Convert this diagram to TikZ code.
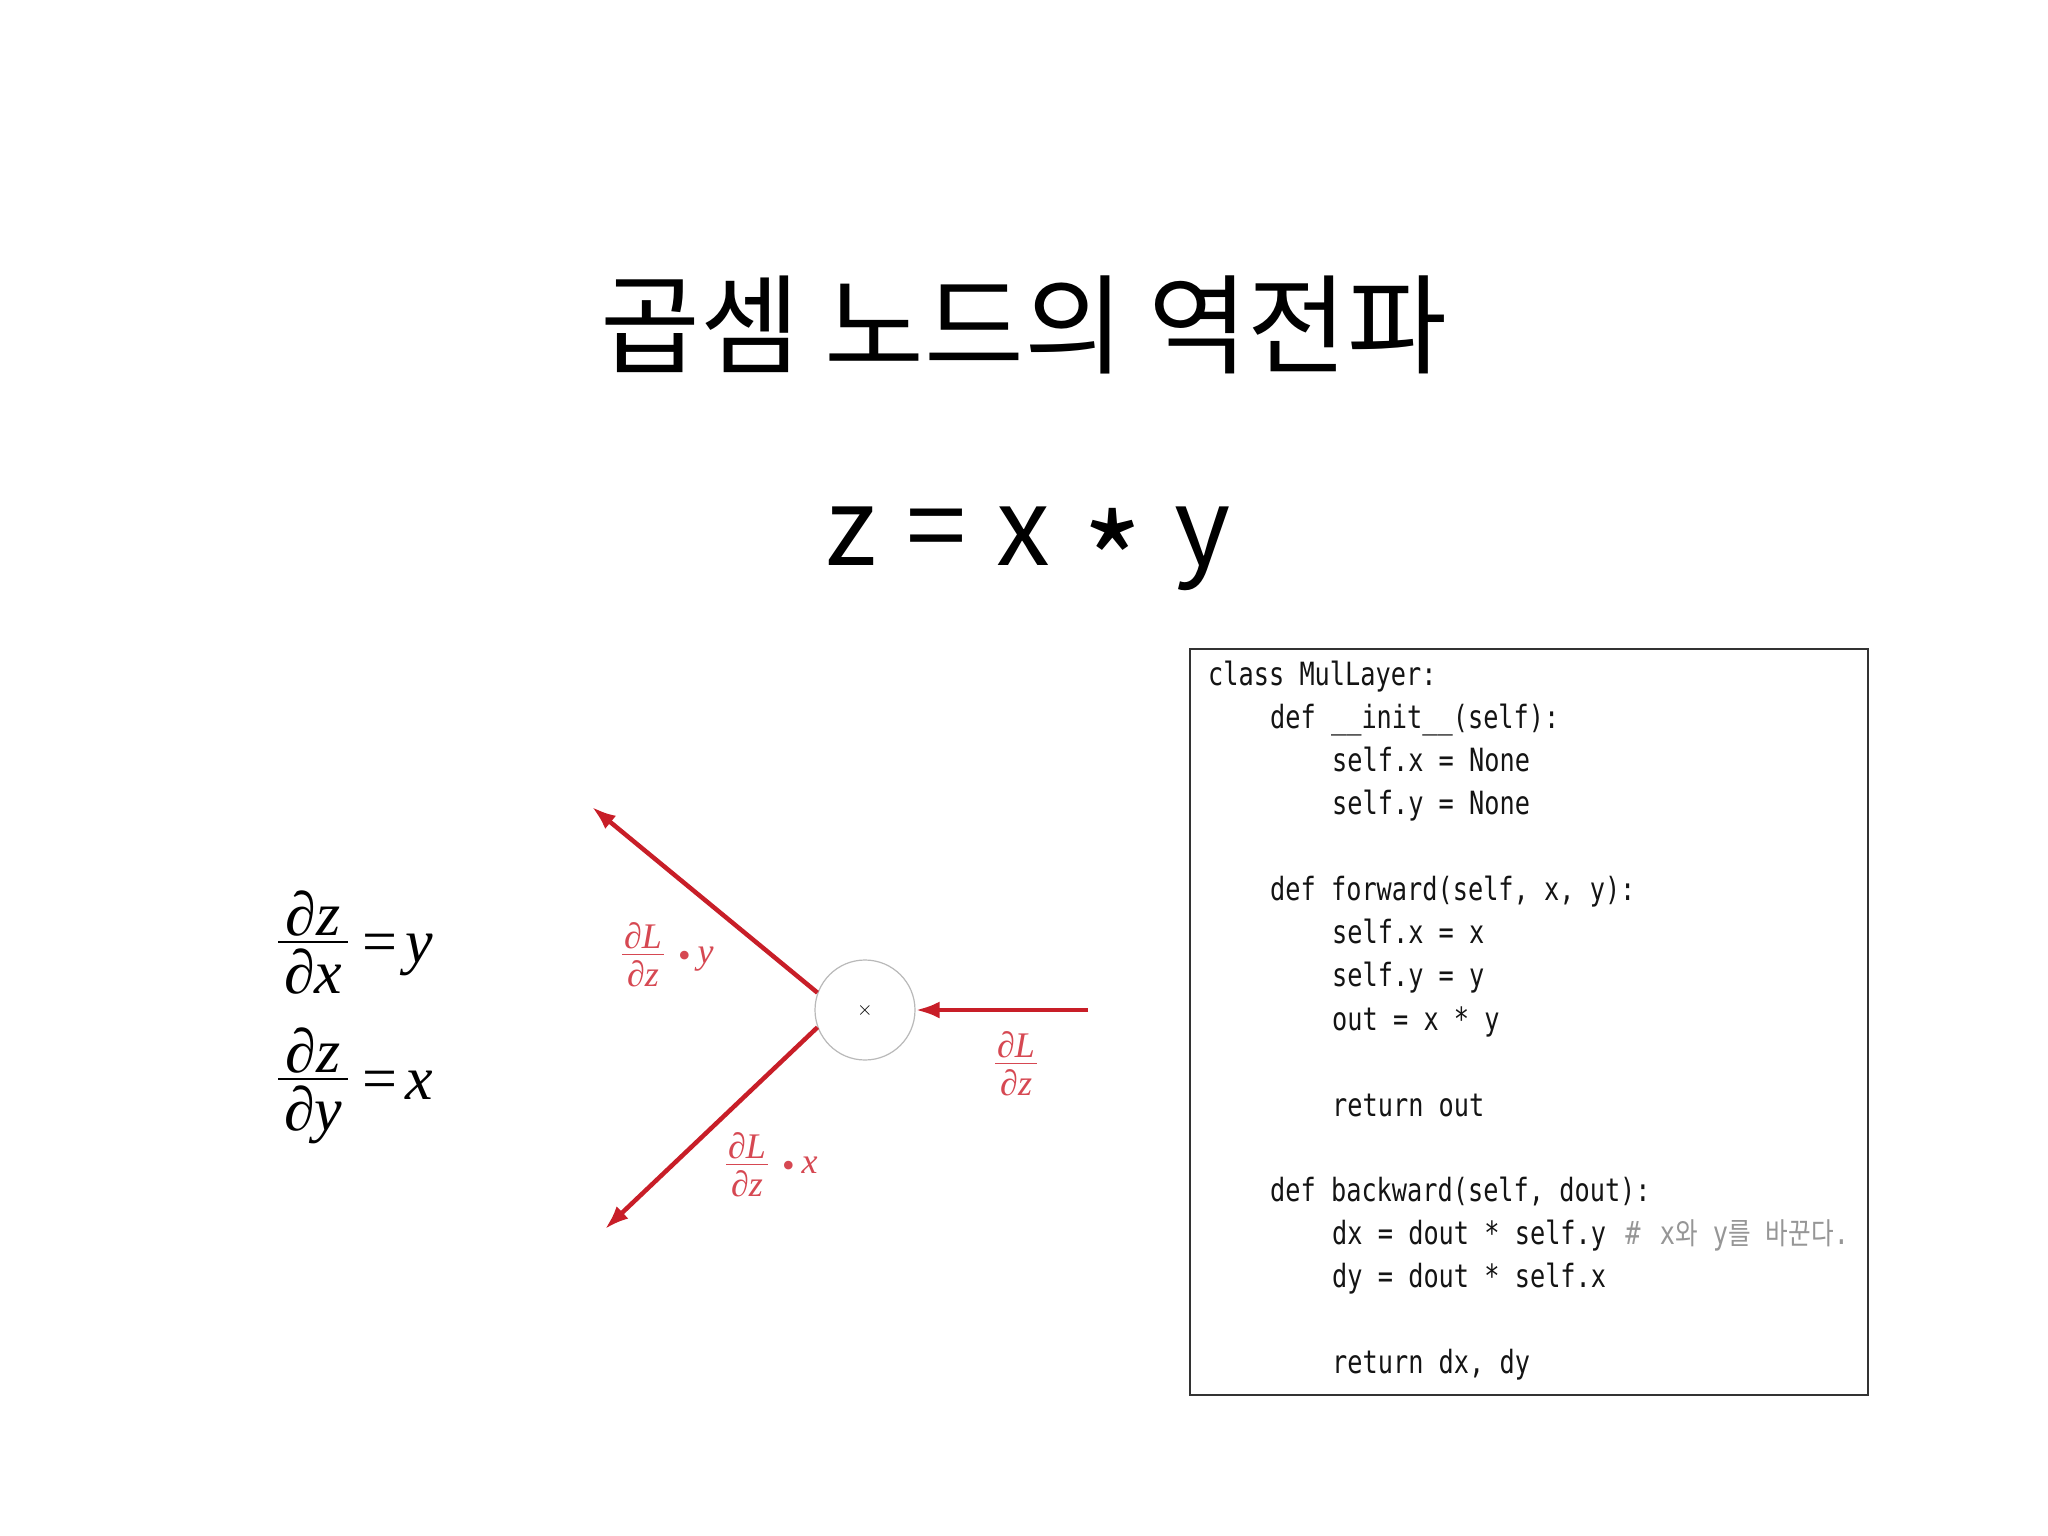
\documentclass[tikz,border=0pt]{standalone}
\usepackage{fontspec}
\newfontfamily\krfont{Noto Sans CJK KR}
\newfontfamily\tms{Liberation Serif}
\newfontfamily\codefont[FakeStretch=0.79]{DejaVu Sans Mono}
\newfontfamily\codekr[FakeStretch=0.82]{Noto Sans CJK KR}
\usetikzlibrary{arrows.meta}
\definecolor{arrred}{RGB}{200,30,40}
\definecolor{lblred}{RGB}{214,72,82}
\definecolor{codegray}{RGB}{150,150,150}
\definecolor{codeblack}{RGB}{20,20,20}
% stacked fraction: num, den, gap, rule thickness, side padding
\newcommand\vfrac[5]{\vbox{\halign{\hfil\kern#5##\kern#5\hfil\cr#1\cr\noalign{\kern#3\hrule height#4\kern#3}#2\cr}}}
\newcommand\kr[1]{{\codekr\fontsize{30}{32}\selectfont #1}}
\tikzset{
  titlefont/.style={inner sep=0pt, font=\krfont\fontsize{108.5}{120}\selectfont},
  eqfont/.style={inner sep=0pt, font=\krfont\fontsize{108}{120}\selectfont},
  lefteq/.style={inner sep=0pt, anchor=base west, font=\tms\itshape\fontsize{62}{70}\selectfont},
  redlbl/.style={inner sep=0pt, anchor=base west, text=lblred, font=\tms\itshape\fontsize{36}{40}\selectfont},
  redarrow/.style={draw=arrred, line width=4.5pt, -{Latex[length=24pt,width=17pt]}},
  mulnode/.style={circle, draw=gray!55, line width=1.2pt, minimum size=100pt, inner sep=0pt},
  codebox/.style={draw=black!80, line width=2pt, rectangle, inner sep=0pt},
  codeline/.style={anchor=mid west, inner sep=0pt, text=codeblack, font=\codefont\fontsize{32}{38}\selectfont},
}
\begin{document}
\begin{tikzpicture}[x=1pt,y=-1pt]
\useasboundingbox[fill=white] (0,0) rectangle (2048,1536);

% titles
\node[titlefont] (title) at (1024,325) {곱셈 노드의 역전파};
\node[eqfont] (eq) at (1028,549) {z\hspace{30pt}=\hspace{30pt}x\hspace{32pt}\smash{\raisebox{-46pt}{\scalebox{1.2}{*}}}\hspace{32pt}y};

% left derivative formulas
\node[lefteq] (dzdx) at (278,993) {\vfrac{∂z}{∂x}{5pt}{2pt}{6pt}\raisebox{31pt}{\kern14pt{\upshape=}\kern8pt y}};
\node[lefteq] (dzdy) at (278,1130) {\vfrac{∂z}{∂y}{5pt}{2pt}{6pt}\raisebox{31pt}{\kern14pt{\upshape=}\kern8pt x}};

% multiplication node graph
\node[mulnode] (mul) at (865,1010) {\scalebox{2}{$\times$}};
\coordinate (inc) at (1088,1010);
\coordinate (yend) at (592,807);
\coordinate (xend) at (605,1229);
\draw[redarrow] (inc) -- (mul.east);
\draw[redarrow] (mul.160) -- (yend);
\draw[redarrow] (mul.200) -- (xend);

\node[redlbl] (lbly) at (622,986) {\vfrac{∂L}{∂z}{5pt}{1.2pt}{2pt}\kern14pt\raisebox{19pt}{\upshape•}\kern7pt\raisebox{23pt}{y}};
\node[redlbl] (lblz) at (995,1095) {\vfrac{∂L}{∂z}{5pt}{1.2pt}{2pt}};
\node[redlbl] (lblx) at (726,1196) {\vfrac{∂L}{∂z}{5pt}{1.2pt}{2pt}\kern14pt\raisebox{19pt}{\upshape•}\kern7pt\raisebox{23pt}{x}};

% code box
\node[codebox, minimum width=678pt, minimum height=746pt] (box) at (1529,1022) {};
\node[codeline] (c1) at (1208,683) {class MulLayer:};
\node[codeline] (c2) at (1270,726) {def \_\_init\_\_(self):};
\node[codeline] (c3) at (1332,769) {self.x = None};
\node[codeline] (c4) at (1332,812) {self.y = None};
\node[codeline] (c6) at (1270,898) {def forward(self, x, y):};
\node[codeline] (c7) at (1332,941) {self.x = x};
\node[codeline] (c8) at (1332,984) {self.y = y};
\node[codeline] (c9) at (1332,1028) {out = x * y};
\node[codeline] (c11) at (1332,1114) {return out};
\node[codeline] (c13) at (1270,1199) {def backward(self, dout):};
\node[codeline] (c14) at (1332,1242) {dx = dout * self.y\kern4pt{} {\color{codegray}\#\kern4pt{} x\kr{와} y\kr{를} \kr{바꾼다}.}};
\node[codeline] (c15) at (1332,1285) {dy = dout * self.x};
\node[codeline] (c17) at (1332,1371) {return dx, dy};
\end{tikzpicture}
\end{document}
